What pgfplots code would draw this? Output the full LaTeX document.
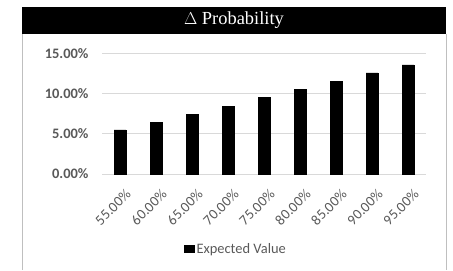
\documentclass[border=0pt]{standalone}
\usepackage{pgfplots}
\pgfplotsset{compat=1.18}
\usepackage{fontspec}
\setmainfont{Carlito}
\newfontfamily\titlefont{Liberation Serif}
\definecolor{lbl}{HTML}{595959}
\definecolor{grd}{HTML}{D9D9D9}
\definecolor{brd}{HTML}{BFBFBF}
\begin{document}
\begin{tikzpicture}[x=1bp,y=1bp]
\path (0,0) rectangle (453,270);
\fill[black] (22,236) rectangle (446,263);
\node[text=white,font=\titlefont\fontsize{18.5}{20}\selectfont] at (234,249.5) {$\Delta$ Probability};
\draw[brd,line width=0.8bp] (22,236) -- (22,0);
\draw[brd,line width=0.8bp] (446,236) -- (446,0);
\begin{axis}[
  at={(102bp,96bp)}, anchor=south west,
  scale only axis, width=324bp, height=120.7bp,
  xmin=-0.5, xmax=8.5, ymin=0, ymax=0.15,
  axis line style={draw=none},
  ytick={0,0.05,0.10,0.15},
  yticklabels={0.00\%,5.00\%,10.00\%,15.00\%},
  xtick={0,...,8},
  xticklabels={55.00\%,60.00\%,65.00\%,70.00\%,75.00\%,80.00\%,85.00\%,90.00\%,95.00\%},
  major tick length=0,
  ymajorgrids, grid style={grd,line width=0.8bp},
  yticklabel style={font=\fontsize{14.5}{16}\selectfont\bfseries, text=lbl, xshift=-10bp},
  xticklabel style={font=\fontsize{14.5}{16}\selectfont, text=lbl, rotate=45, anchor=north east, xshift=-3.5bp, yshift=-10bp},
  legend style={draw=none, fill=none, at={(0.4136,-0.621)}, anchor=center, font=\fontsize{14.5}{16}\selectfont, text=lbl, inner sep=0pt},
  legend image code/.code={\fill[black] (0bp,-3.5bp) rectangle (10bp,3.5bp);},
  clip=false,
]
\addplot[ybar, bar width=11.7bp, fill=black, draw=black] coordinates {
(0,0.0547) (1,0.0642) (2,0.0743) (3,0.0843) (4,0.0955) (5,0.1056) (6,0.1155) (7,0.1256) (8,0.1357)};
\addlegendentry{Expected Value}
\end{axis}
\end{tikzpicture}
\end{document}
